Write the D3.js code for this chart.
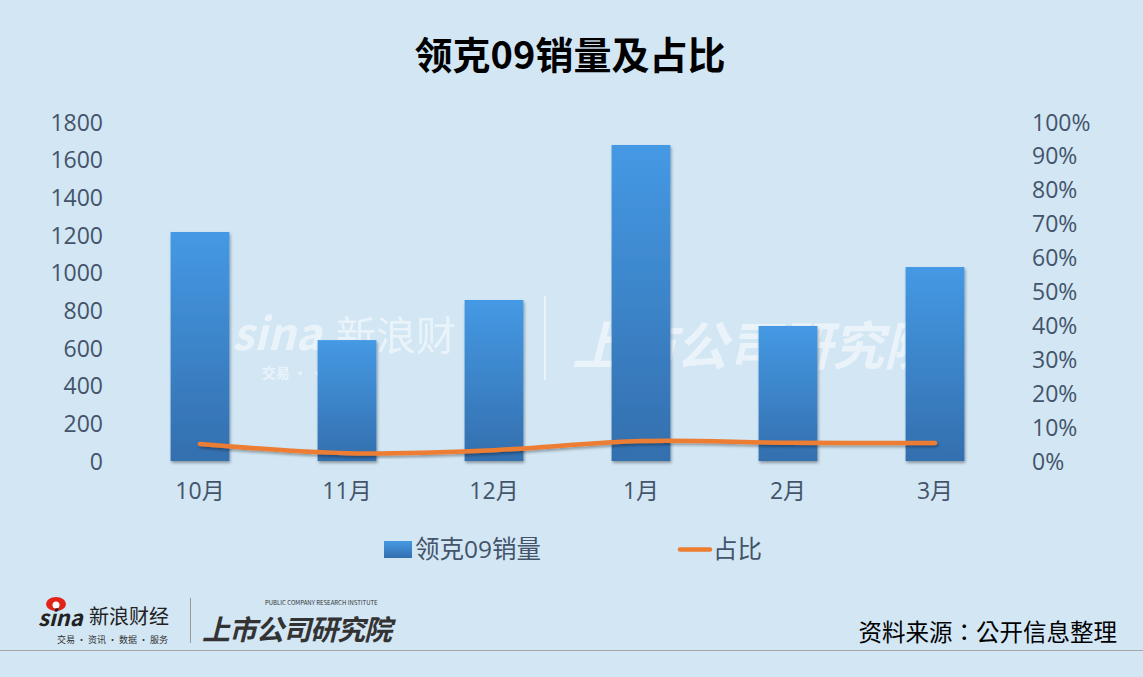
<!DOCTYPE html>
<html><head><meta charset="utf-8">
<script src="https://cdn.jsdelivr.net/npm/d3@7"></script>
<style>
html,body{margin:0;padding:0;background:#D2E6F4;}
svg{display:block;}
</style></head>
<body>
<svg id="c" width="1143" height="677"></svg>
<script>
const categories = ["10月","11月","12月","1月","2月","3月"];
const sales = [1216, 642, 855, 1678, 717, 1030];
const share = [0.050, 0.023, 0.032, 0.059, 0.054, 0.053];
const leftTicks = [0,200,400,600,800,1000,1200,1400,1600,1800];
const rightTicks = [0,0.1,0.2,0.3,0.4,0.5,0.6,0.7,0.8,0.9,1.0];
const title = "领克09销量及占比";
const seriesNames = ["领克09销量","占比"];
const source = "资料来源：公开信息整理";

const svg = d3.select("#c");
const W = 1143, H = 677;
const font = "'Noto Sans CJK SC','Noto Sans',sans-serif";
const numFont = "'Open Sans','Noto Sans CJK SC',sans-serif";
const axisColor = "#44546A";

svg.append("rect").attr("width",W).attr("height",H).attr("fill","#D2E6F4");

const defs = svg.append("defs");
const grad = defs.append("linearGradient").attr("id","barGrad").attr("x1",0).attr("y1",0).attr("x2",0).attr("y2",1);
grad.append("stop").attr("offset","0%").attr("stop-color","#4599E4");
grad.append("stop").attr("offset","100%").attr("stop-color","#336FAE");
const lgrad = defs.append("linearGradient").attr("id","legGrad").attr("x1",0).attr("y1",0).attr("x2",0).attr("y2",1);
lgrad.append("stop").attr("offset","0%").attr("stop-color","#4599E4");
lgrad.append("stop").attr("offset","100%").attr("stop-color","#336FAE");
const sh = defs.append("filter").attr("id","shadow").attr("x","-20%").attr("y","-20%").attr("width","140%").attr("height","160%");
sh.append("feGaussianBlur").attr("in","SourceAlpha").attr("stdDeviation",1.5);
sh.append("feOffset").attr("dx",1).attr("dy",2).attr("result","ob");
sh.append("feComponentTransfer").append("feFuncA").attr("type","linear").attr("slope",0.35);
const m = sh.append("feMerge"); m.append("feMergeNode"); m.append("feMergeNode").attr("in","SourceGraphic");

// Title
svg.append("text").attr("x",570).attr("y",69).attr("text-anchor","middle")
  .attr("font-family",font).attr("font-weight","bold").attr("font-size",38).attr("fill","#000")
  .text(title);

const x = d3.scaleBand().domain(categories).range([126.5,1008.5]).paddingInner(0.6).paddingOuter(0.3);
const yL = d3.scaleLinear().domain([0,1800]).range([461,122]);
const yR = d3.scaleLinear().domain([0,1]).range([461,122]);

// Watermark
const wm = svg.append("g").attr("opacity",0.55).attr("fill","#FFFFFF").attr("font-family",font);
wm.append("text").attr("x",232).attr("y",350).attr("font-size",44).attr("font-style","italic").attr("font-weight","bold").text("sina");
wm.append("text").attr("x",336).attr("y",350).attr("font-size",40).text("新浪财");
wm.append("text").attr("x",262).attr("y",378).attr("font-size",14).attr("font-weight","bold").text("交易 ·        ·  数据  ·");
wm.append("rect").attr("x",544).attr("y",296).attr("width",2).attr("height",84);
wm.append("text").attr("x",572).attr("y",365).attr("font-size",52).attr("font-style","italic").attr("font-weight","bold").text("上市公司研究院");

// Left axis
const gl = svg.append("g").attr("transform","translate(103,0)")
  .call(d3.axisLeft(yL).tickValues(leftTicks).tickSize(0).tickPadding(0).tickFormat(d3.format("d")));
gl.select(".domain").remove();
gl.selectAll("text").attr("font-family",numFont).attr("font-size",23).attr("fill",axisColor).attr("dy","0.35em");

// Right axis
const gr = svg.append("g").attr("transform","translate(1032,0)")
  .call(d3.axisRight(yR).tickValues(rightTicks).tickSize(0).tickPadding(0).tickFormat(d3.format(".0%")));
gr.select(".domain").remove();
gr.selectAll("text").attr("font-family",numFont).attr("font-size",23).attr("fill",axisColor).attr("dy","0.35em");

// X axis
const gx = svg.append("g").attr("transform","translate(0,461)")
  .call(d3.axisBottom(x).tickSize(0).tickPadding(22));
gx.select(".domain").remove();
gx.selectAll("text").attr("font-family",numFont).attr("font-size",23).attr("fill",axisColor);

// Bars
svg.append("g").selectAll("rect").data(sales).join("rect")
  .attr("x",(d,i)=>x(categories[i]))
  .attr("width",x.bandwidth())
  .attr("y",d=>yL(d))
  .attr("height",d=>yL(0)-yL(d))
  .attr("fill","url(#barGrad)")
  .attr("filter","url(#shadow)");

// Line
const line = d3.line()
  .x((d,i)=>x(categories[i])+x.bandwidth()/2)
  .y(d=>yR(d))
  .curve(d3.curveCatmullRom.alpha(0.5));
svg.append("path").datum(share).attr("d",line)
  .attr("fill","none").attr("stroke","#ED7D31").attr("stroke-width",4.5)
  .attr("stroke-linecap","round").attr("stroke-linejoin","round")
  .attr("filter","url(#shadow)");

// Legend
const lg = svg.append("g").attr("font-family",numFont).attr("font-size",24.5).attr("fill","#44546A");
lg.append("rect").attr("x",384).attr("y",541).attr("width",28).attr("height",17).attr("fill","url(#legGrad)");
lg.append("text").attr("x",415).attr("y",558).text(seriesNames[0]);
lg.append("line").attr("x1",680).attr("x2",710).attr("y1",549.5).attr("y2",549.5)
  .attr("stroke","#ED7D31").attr("stroke-width",4.5).attr("stroke-linecap","round");
lg.append("text").attr("x",713).attr("y",558).text(seriesNames[1]);

// Bottom logos
const bl = svg.append("g").attr("font-family",font);
bl.append("ellipse").attr("cx",56).attr("cy",604).attr("rx",10).attr("ry",7).attr("fill","#E2231A");
bl.append("circle").attr("cx",56).attr("cy",605).attr("r",3.5).attr("fill","#fff");
bl.append("text").attr("x",38).attr("y",626).attr("font-size",22).attr("font-style","italic").attr("font-weight","bold").attr("fill","#222").text("sina");
bl.append("text").attr("x",89).attr("y",624).attr("font-size",20).attr("fill","#222").text("新浪财经");
bl.append("text").attr("x",57).attr("y",643).attr("font-size",9).attr("fill","#333").text("交易 · 资讯 · 数据 · 服务");
bl.append("rect").attr("x",190).attr("y",598).attr("width",1).attr("height",45).attr("fill","#999");
bl.append("text").attr("x",265).attr("y",605).attr("font-size",6).attr("fill","#333").text("PUBLIC COMPANY RESEARCH INSTITUTE");
bl.append("text").attr("x",202).attr("y",640).attr("font-size",28).attr("font-style","italic").attr("font-weight","bold").attr("fill","#333").attr("letter-spacing",-1).text("上市公司研究院");

// Source
svg.append("text").attr("x",1117).attr("y",641).attr("text-anchor","end")
  .attr("font-family","'Noto Sans CJK TC','Noto Sans CJK SC',sans-serif").attr("font-size",23.5).attr("fill","#000").text(source);
svg.append("line").attr("x1",0).attr("x2",W).attr("y1",650.5).attr("y2",650.5).attr("stroke","#A6A6A6").attr("stroke-width",1);
</script>
</body></html>
